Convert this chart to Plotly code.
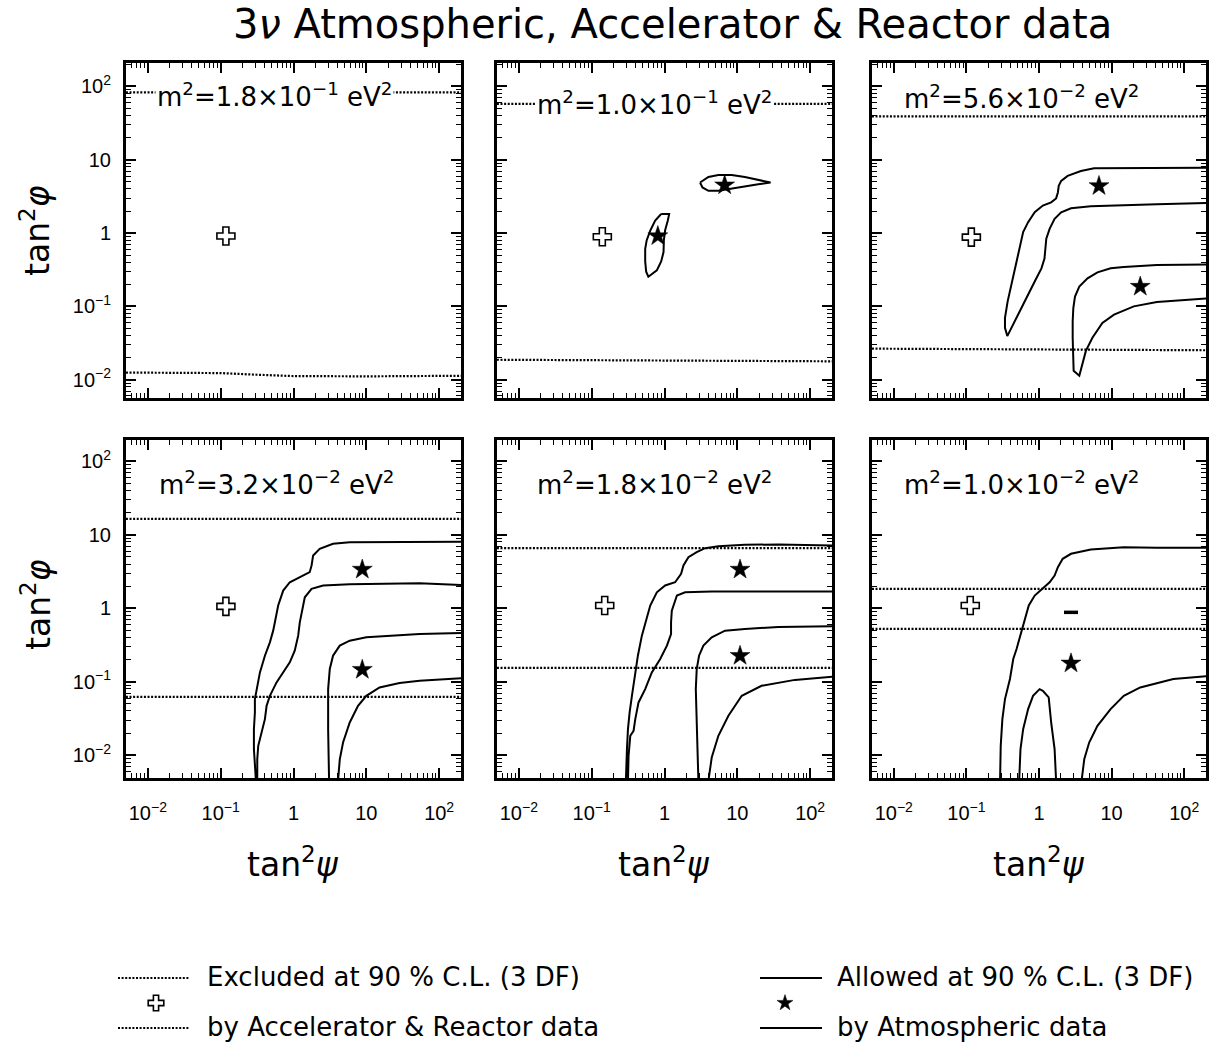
import plotly.graph_objects as go

# ---------------- data ----------------
MAJOR_TICKS = [0.01, 0.1, 1, 10, 100]
TICK_TEXT = ["10<sup>−2</sup>", "10<sup>−1</sup>", "1", "10", "10<sup>2</sup>"]
MINOR_TICKS = [m * 10 ** k for k in range(-3, 3) for m in range(2, 10)]

PANEL_LABELS = [
    "m<sup>2</sup>=1.8×10<sup>−1</sup> eV<sup>2</sup>",
    "m<sup>2</sup>=1.0×10<sup>−1</sup> eV<sup>2</sup>",
    "m<sup>2</sup>=5.6×10<sup>−2</sup> eV<sup>2</sup>",
    "m<sup>2</sup>=3.2×10<sup>−2</sup> eV<sup>2</sup>",
    "m<sup>2</sup>=1.8×10<sup>−2</sup> eV<sup>2</sup>",
    "m<sup>2</sup>=1.0×10<sup>−2</sup> eV<sup>2</sup>",
]

# Panel 1 (m^2 = 0.18)
p1_excl_hi_x = [0.005, 200]
p1_excl_hi_y = [83, 83]
p1_excl_lo_x = [0.005, 0.03, 0.1, 0.3, 1, 10, 200]
p1_excl_lo_y = [0.0125, 0.0125, 0.0123, 0.0117, 0.0112, 0.0111, 0.0113]
p1_cross = ([0.118], [0.91])

# Panel 2 (m^2 = 0.10)
p2_excl_hi_x = [0.005, 200]
p2_excl_hi_y = [58, 58]
p2_excl_lo_x = [0.005, 0.3, 200]
p2_excl_lo_y = [0.0187, 0.0185, 0.0178]
p2_cross = ([0.14], [0.89])
p2_stars = ([0.81, 6.7], [0.91, 4.5])
p2_allow_a_x = [0.90, 1.16, 1.11, 1.02, 0.98, 0.97, 0.90, 0.785, 0.60, 0.56, 0.543, 0.543, 0.57, 0.64, 0.745, 0.90]
p2_allow_a_y = [1.82, 1.82, 1.48, 1.09, 0.80, 0.55, 0.41, 0.31, 0.254, 0.297, 0.41, 0.61, 0.80, 1.09, 1.48, 1.82]
p2_allow_b_x = [3.08, 4.01, 5.49, 8.36, 12.7, 19.4, 28.6, 19.4, 12.7, 8.36, 5.49, 4.01, 3.32, 3.08]
p2_allow_b_y = [4.89, 5.83, 6.21, 6.21, 5.83, 5.31, 4.89, 4.64, 4.32, 3.97, 3.77, 3.77, 4.19, 4.89]

# Panel 3 (m^2 = 0.056)
p3_excl_hi_x = [0.005, 200]
p3_excl_hi_y = [39, 39]
p3_excl_lo_x = [0.005, 1, 200]
p3_excl_lo_y = [0.0265, 0.026, 0.0252]
p3_cross = ([0.117], [0.88])
p3_stars = ([6.7, 24.8], [4.4, 0.186])
p3_allow_a_x = [200, 42, 14.7, 5.74, 3.78, 2.48, 2.02, 1.87, 1.82, 1.72, 1.47, 1.13, 0.873, 0.708,
                0.605, 0.563, 0.518, 0.466, 0.42, 0.37, 0.34, 0.34, 0.366, 0.42, 0.518, 0.671, 0.873,
                1.08, 1.19, 1.22, 1.26, 1.40, 1.64, 2.02, 2.76, 5.17, 14.7, 42, 200]
p3_allow_a_y = [7.8, 7.8, 7.8, 7.64, 7.03, 6.02, 5.15, 4.41, 3.58, 2.97, 2.62, 2.37, 1.92, 1.41,
                1.03, 0.756, 0.499, 0.313, 0.196, 0.117, 0.0696, 0.051, 0.0393, 0.051, 0.0771, 0.13, 0.218,
                0.33, 0.45, 0.614, 0.838, 1.14, 1.56, 1.92, 2.18, 2.32, 2.37, 2.47, 2.58]
p3_allow_b_x = [200, 42, 14.7, 9.7, 6.38, 4.66, 3.59, 3.13, 2.97, 2.91, 2.91, 3.0, 3.59, 3.86, 4.42,
                5.44, 7.46, 10.8, 20.2, 42, 200]
p3_allow_b_y = [0.374, 0.366, 0.344, 0.33, 0.291, 0.241, 0.186, 0.136, 0.095, 0.0627, 0.0373, 0.0132,
                0.0113, 0.0147, 0.0247, 0.0373, 0.0596, 0.0771, 0.1, 0.1145, 0.128]

# Panel 4 (m^2 = 0.032)
p4_excl_hi_x = [0.005, 200]
p4_excl_hi_y = [16.5, 16.5]
p4_excl_lo_x = [0.005, 200]
p4_excl_lo_y = [0.0624, 0.0624]
p4_cross = ([0.118], [1.06])
p4_stars = ([8.8, 8.8], [3.37, 0.146])
p4_allow_a_x = [200, 53.8, 5.92, 3.49, 2.29, 1.86, 1.77, 1.67, 1.22, 0.89, 0.722, 0.616, 0.555, 0.526,
                0.474, 0.405, 0.346, 0.311, 0.295, 0.295, 0.286, 0.286, 0.295, 0.305, 0.318, 0.318,
                0.328, 0.365, 0.405, 0.427, 0.474, 0.585, 0.722, 0.89, 1.04, 1.16, 1.22, 1.29, 1.43,
                1.77, 2.55, 5.92, 53.8, 200]
p4_allow_a_y = [8.03, 7.94, 7.94, 7.54, 6.44, 5.23, 3.82, 3.10, 2.65, 2.26, 1.74, 1.09, 0.644, 0.496,
                0.344, 0.226, 0.134, 0.0794, 0.058, 0.0382, 0.0226, 0.0121, 0.0079, 0.0045, 0.0045, 0.0088,
                0.0134, 0.0204, 0.031, 0.047, 0.0644, 0.098, 0.134, 0.184, 0.265, 0.424, 0.644, 0.882, 1.41,
                1.84, 2.04, 2.12, 2.19, 2.08]
p4_allow_b_x = [200, 53.8, 10, 5.92, 4.32, 3.49, 3.15, 2.99, 2.99, 3.08, 4.09, 4.32, 4.79, 5.92, 7.69,
                10, 15.2, 28.6, 53.8, 200]
p4_allow_b_y = [0.461, 0.447, 0.402, 0.362, 0.31, 0.226, 0.149, 0.0794, 0.0226, 0.0045, 0.0045, 0.0088,
                0.0149, 0.0279, 0.047, 0.0644, 0.0837, 0.096, 0.103, 0.112]

# Panel 5 (m^2 = 0.018)
p5_excl_hi_x = [0.005, 200]
p5_excl_hi_y = [6.58, 6.58]
p5_excl_lo_x = [0.005, 200]
p5_excl_lo_y = [0.154, 0.154]
p5_cross = ([0.151], [1.09])
p5_stars = ([10.9, 10.9], [3.37, 0.226])
p5_allow_a_x = [200, 36.5, 12.7, 5.49, 3.61, 2.77, 2.13, 1.82, 1.69, 1.40, 1.02, 0.785, 0.637, 0.543,
                0.489, 0.431, 0.397, 0.357, 0.332, 0.315, 0.305, 0.295, 0.315, 0.321, 0.339, 0.376,
                0.397, 0.44, 0.543, 0.67, 0.873, 1.08, 1.23, 1.23, 1.26, 1.48, 1.92, 4.45, 12.7, 200]
p5_allow_a_y = [7.16, 7.38, 7.31, 7.0, 6.58, 5.8, 4.96, 3.82, 2.94, 2.26, 2.04, 1.65, 1.09, 0.644,
                0.424, 0.226, 0.121, 0.0644, 0.0382, 0.0226, 0.0121, 0.0045, 0.0045, 0.0098, 0.0184, 0.0215,
                0.031, 0.0523, 0.0794, 0.134, 0.204, 0.31, 0.447, 0.644, 0.929, 1.49, 1.65, 1.69, 1.69, 1.69]
p5_allow_b_x = [200, 36.5, 12.7, 6.78, 4.45, 3.42, 2.98, 2.77, 2.69, 2.77, 2.92, 4.01, 4.45, 5.49, 7.54,
                11.5, 21.5, 61.7, 200]
p5_allow_b_y = [0.568, 0.556, 0.523, 0.496, 0.402, 0.31, 0.226, 0.149, 0.0794, 0.0226, 0.0045, 0.0045,
                0.0093, 0.0184, 0.0344, 0.0644, 0.0882, 0.106, 0.117]

# Panel 6 (m^2 = 0.010)
p6_excl_hi_x = [0.005, 200]
p6_excl_hi_y = [1.84, 1.84]
p6_excl_lo_x = [0.005, 200]
p6_excl_lo_y = [0.523, 0.523]
p6_cross = ([0.113], [1.09])
p6_dash = ([2.76], [0.88])
p6_stars = ([2.76], [0.178])
p6_allow_a_x = [0.291, 0.297, 0.313, 0.34, 0.398, 0.442, 0.491, 0.574, 0.638, 0.723, 0.873, 1.13, 1.40,
                1.64, 1.82, 2.12, 2.76, 5.17, 14.7, 42, 200]
p6_allow_a_y = [0.0045, 0.0134, 0.031, 0.058, 0.109, 0.204, 0.279, 0.471, 0.716, 1.09, 1.49, 1.84, 2.26,
                2.79, 3.62, 4.71, 5.51, 6.31, 6.79, 6.65, 6.65]
p6_allow_b_x = [0.533, 0.556, 0.605, 0.708, 0.828, 1.02, 1.13, 1.36, 1.47, 1.64, 1.72]
p6_allow_b_y = [0.0045, 0.0121, 0.0226, 0.0424, 0.0644, 0.0794, 0.0754, 0.0611, 0.0279, 0.0121, 0.0045]
p6_allow_c_x = [3.86, 4.2, 4.91, 6.38, 9.68, 14.7, 24.8, 42, 70.8, 200]
p6_allow_c_y = [0.0045, 0.0088, 0.0149, 0.0251, 0.0424, 0.0644, 0.0837, 0.096, 0.109, 0.119]

# ---------------- layout geometry (pixels of 1212 x 1044 canvas) ----------------
W, H = 1212, 1044
COLS_PX = [(126, 461), (497, 832), (872, 1206)]
ROWS_PX = [(63, 398), (440, 778)]
X_RANGE = [-2.3, 2.3]
Y_RANGES = [[-2.25, 2.32], [-2.31, 2.29]]

TEXT_FONT = "DejaVu Sans"
TICK_FONT = "Liberation Sans"

fig = go.Figure()

DOT = dict(color="black", width=2.2, dash="2px,1.6px")
SOLID = dict(color="black", width=2)


def add_line(ax, xs, ys, style):
    fig.add_trace(go.Scatter(x=xs, y=ys, mode="lines", line=style, xaxis=ax[0], yaxis=ax[1],
                             showlegend=False, hoverinfo="skip"))


def add_markers(ax, pts, symbol, size, width=1.6):
    fig.add_trace(go.Scatter(x=pts[0], y=pts[1], mode="markers", xaxis=ax[0], yaxis=ax[1],
                             marker=dict(symbol=symbol, size=size, color="black",
                                         line=dict(color="black", width=width)),
                             showlegend=False, hoverinfo="skip", cliponaxis=False))


AX = [("x", "y"), ("x2", "y2"), ("x3", "y3"), ("x4", "y4"), ("x5", "y5"), ("x6", "y6")]

# panel 1
add_line(AX[0], p1_excl_hi_x, p1_excl_hi_y, DOT)
add_line(AX[0], p1_excl_lo_x, p1_excl_lo_y, DOT)
add_markers(AX[0], p1_cross, "cross-open", 15)
# panel 2
add_line(AX[1], p2_excl_hi_x, p2_excl_hi_y, DOT)
add_line(AX[1], p2_excl_lo_x, p2_excl_lo_y, DOT)
add_line(AX[1], p2_allow_a_x, p2_allow_a_y, SOLID)
add_line(AX[1], p2_allow_b_x, p2_allow_b_y, SOLID)
add_markers(AX[1], p2_cross, "cross-open", 15)
add_markers(AX[1], p2_stars, "star", 15, 0.5)
# panel 3
add_line(AX[2], p3_excl_hi_x, p3_excl_hi_y, DOT)
add_line(AX[2], p3_excl_lo_x, p3_excl_lo_y, DOT)
add_line(AX[2], p3_allow_a_x, p3_allow_a_y, SOLID)
add_line(AX[2], p3_allow_b_x, p3_allow_b_y, SOLID)
add_markers(AX[2], p3_cross, "cross-open", 15)
add_markers(AX[2], p3_stars, "star", 15, 0.5)
# panel 4
add_line(AX[3], p4_excl_hi_x, p4_excl_hi_y, DOT)
add_line(AX[3], p4_excl_lo_x, p4_excl_lo_y, DOT)
add_line(AX[3], p4_allow_a_x, p4_allow_a_y, SOLID)
add_line(AX[3], p4_allow_b_x, p4_allow_b_y, SOLID)
add_markers(AX[3], p4_cross, "cross-open", 15)
add_markers(AX[3], p4_stars, "star", 15, 0.5)
# panel 5
add_line(AX[4], p5_excl_hi_x, p5_excl_hi_y, DOT)
add_line(AX[4], p5_excl_lo_x, p5_excl_lo_y, DOT)
add_line(AX[4], p5_allow_a_x, p5_allow_a_y, SOLID)
add_line(AX[4], p5_allow_b_x, p5_allow_b_y, SOLID)
add_markers(AX[4], p5_cross, "cross-open", 15)
add_markers(AX[4], p5_stars, "star", 15, 0.5)
# panel 6
add_line(AX[5], p6_excl_hi_x, p6_excl_hi_y, DOT)
add_line(AX[5], p6_excl_lo_x, p6_excl_lo_y, DOT)
add_line(AX[5], p6_allow_a_x, p6_allow_a_y, SOLID)
add_line(AX[5], p6_allow_b_x, p6_allow_b_y, SOLID)
add_line(AX[5], p6_allow_c_x, p6_allow_c_y, SOLID)
add_markers(AX[5], p6_cross, "cross-open", 15)
add_markers(AX[5], p6_dash, "line-ew", 10, 3.5)
add_markers(AX[5], p6_stars, "star", 15, 0.5)


def make_axis(domain, anchor, rng, show_labels, standoff):
    return dict(
        type="log", range=rng, domain=domain, anchor=anchor,
        showline=True, linewidth=3, linecolor="black", mirror="allticks",
        ticks="inside", ticklen=10, tickwidth=1.5, tickcolor="black",
        tickmode="array", tickvals=MAJOR_TICKS, ticktext=TICK_TEXT,
        showticklabels=show_labels, ticklabelstandoff=standoff,
        tickfont=dict(family=TICK_FONT, size=20, color="black"),
        showgrid=False, zeroline=False, fixedrange=True,
        minor=dict(ticks="inside", ticklen=5, tickwidth=1, tickcolor="black",
                   tickmode="array", tickvals=MINOR_TICKS, showgrid=False),
    )


layout_axes = {}
for i in range(6):
    r, c = divmod(i, 3)
    x0, x1 = COLS_PX[c]
    y0, y1 = ROWS_PX[r]
    xd = [x0 / W, x1 / W]
    yd = [1 - y1 / H, 1 - y0 / H]
    xname = "xaxis" if i == 0 else f"xaxis{i + 1}"
    yname = "yaxis" if i == 0 else f"yaxis{i + 1}"
    layout_axes[xname] = make_axis(xd, AX[i][1], X_RANGE, r == 1, 15)
    layout_axes[yname] = make_axis(yd, AX[i][0], Y_RANGES[r], c == 0, 8)

# overlay axis in pixel units for the key at the bottom
layout_axes["xaxis7"] = dict(domain=[0, 1], range=[0, W], visible=False, anchor="y7", fixedrange=True)
layout_axes["yaxis7"] = dict(domain=[0, 1], range=[H, 0], visible=False, anchor="x7", fixedrange=True)

# key
KEY_DOT_X = [118, 190]
KEY_SOLID_X = [760, 822]
for yy in (978, 1028):
    fig.add_trace(go.Scatter(x=KEY_DOT_X, y=[yy, yy], mode="lines", line=DOT, xaxis="x7", yaxis="y7",
                             showlegend=False, hoverinfo="skip"))
    fig.add_trace(go.Scatter(x=KEY_SOLID_X, y=[yy, yy], mode="lines", line=dict(color="black", width=2),
                             xaxis="x7", yaxis="y7", showlegend=False, hoverinfo="skip"))
fig.add_trace(go.Scatter(x=[156], y=[1003], mode="markers", xaxis="x7", yaxis="y7",
                         marker=dict(symbol="cross-open", size=13, color="black", line=dict(color="black", width=1.6)),
                         showlegend=False, hoverinfo="skip"))
fig.add_trace(go.Scatter(x=[785], y=[1003], mode="markers", xaxis="x7", yaxis="y7",
                         marker=dict(symbol="star", size=12, color="black", line=dict(color="black", width=0.5)),
                         showlegend=False, hoverinfo="skip"))

annotations = []
# panel labels (white box only where a dotted line runs behind the label)
LABEL_POS = [(0.087, 0.905), (0.113, 0.88), (0.09, 0.898), (0.093, 0.873), (0.113, 0.873), (0.09, 0.873)]
LABEL_BG = ["white", "white", "rgba(0,0,0,0)", "rgba(0,0,0,0)", "rgba(0,0,0,0)", "rgba(0,0,0,0)"]
for i, (lx, ly) in enumerate(LABEL_POS):
    xr = "x domain" if i == 0 else f"x{i + 1} domain"
    yr = "y domain" if i == 0 else f"y{i + 1} domain"
    annotations.append(dict(text=PANEL_LABELS[i], x=lx, y=ly, xref=xr, yref=yr, xanchor="left",
                            yanchor="middle", showarrow=False, bgcolor=LABEL_BG[i], borderpad=1,
                            font=dict(family=TEXT_FONT, size=26, color="black")))

# title
annotations.append(dict(text="3<i>ν</i> Atmospheric, Accelerator &amp; Reactor data", x=672 / W, y=1 - 24 / H,
                        xref="paper", yref="paper", xanchor="center", yanchor="middle", showarrow=False,
                        font=dict(family=TEXT_FONT, size=40, color="black")))
# axis titles
for yc in (231, 605):
    annotations.append(dict(text="tan<sup>2</sup><i>φ</i>", x=36 / W, y=1 - yc / H, xref="paper", yref="paper",
                            textangle=-90, xanchor="center", yanchor="middle", showarrow=False,
                            font=dict(family=TEXT_FONT, size=33, color="black")))
for xc in (293, 664, 1039):
    annotations.append(dict(text="tan<sup>2</sup><i>ψ</i>", x=xc / W, y=1 - 862 / H, xref="paper", yref="paper",
                            xanchor="center", yanchor="middle", showarrow=False,
                            font=dict(family=TEXT_FONT, size=33, color="black")))
# key texts
KEY_TEXTS = [
    (205, 977, "Excluded at 90 % C.L. (3 DF)"),
    (205, 1027, "by Accelerator &amp; Reactor data"),
    (835, 977, "Allowed at 90 % C.L. (3 DF)"),
    (835, 1027, "by Atmospheric data"),
]
for kx, ky, kt in KEY_TEXTS:
    annotations.append(dict(text=kt, x=kx, y=ky, xref="x7", yref="y7", xanchor="left", yanchor="middle",
                            showarrow=False, font=dict(family=TEXT_FONT, size=26, color="black")))

fig.update_layout(
    width=W, height=H, margin=dict(l=0, r=0, t=0, b=0),
    paper_bgcolor="white", plot_bgcolor="rgba(0,0,0,0)",
    annotations=annotations, showlegend=False,
    **layout_axes,
)

fig.write_html("out.html", config={"displayModeBar": False},
               post_script="document.body.style.margin='0px';")
